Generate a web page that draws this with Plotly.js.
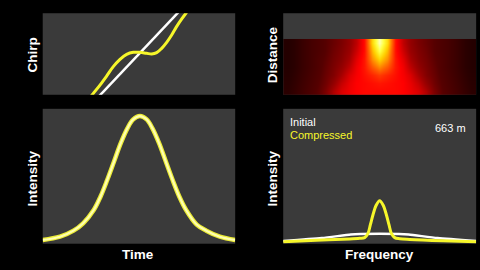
<!DOCTYPE html>
<html>
<head>
<meta charset="utf-8">
<script src="https://cdn.plot.ly/plotly-3.0.1.min.js"></script>
<style>
  html, body { margin: 0; padding: 0; background: #000; }
  #chart { width: 480px; height: 270px; }
</style>
</head>
<body>
<div id="chart"></div>
<script>
// ---- Chirp panel (top-left) ----
const chirpTimeInitial = [-1.0, 1.0];
const chirpInitial = [-2.5, 2.5];
const chirpTimeCompressed = [-0.52, -0.474, -0.405, -0.336, -0.267, -0.197, -0.128, -0.059, 0.010, 0.080, 0.132, 0.184, 0.236, 0.288, 0.340, 0.391, 0.443, 0.488, 0.53];
const chirpCompressed = [-1.1, -0.966, -0.762, -0.541, -0.311, -0.131, -0.008, 0.041, 0.041, 0.016, 0.0, 0.033, 0.139, 0.287, 0.467, 0.672, 0.853, 1.0, 1.12];

// ---- Temporal intensity (bottom-left) ----
const timeAxis = [-1.0, -0.82, -0.68, -0.58, -0.47, -0.40, -0.33, -0.26, -0.19, -0.12, -0.06, 0.01, 0.08, 0.14, 0.21, 0.28, 0.35, 0.42, 0.49, 0.60, 0.70, 0.84, 1.0];
const intensityTime = [0.029, 0.055, 0.102, 0.160, 0.264, 0.368, 0.499, 0.642, 0.786, 0.904, 0.974, 1.0, 0.974, 0.904, 0.786, 0.642, 0.499, 0.368, 0.264, 0.150, 0.102, 0.055, 0.029];

// ---- Spectrum (bottom-right) ----
const freqInitial = [-1.0, -0.6, -0.3, -0.2, 0.2, 0.3, 0.6, 1.0];
const spectrumInitial = [0.020, 0.042, 0.068, 0.072, 0.072, 0.068, 0.042, 0.020];
const freqCompressed = [-1.0, -0.658, -0.311, -0.208, -0.156, -0.121, -0.097, -0.070, -0.035, 0.0, 0.035, 0.070, 0.097, 0.121, 0.156, 0.208, 0.311, 0.657, 1.0];
const spectrumCompressed = [0.015, 0.025, 0.035, 0.040, 0.045, 0.077, 0.139, 0.213, 0.287, 0.319, 0.287, 0.213, 0.139, 0.077, 0.045, 0.037, 0.032, 0.022, 0.015];

// ---- Spectral evolution heatmap (top-right) ----
const heatFreq = [-0.96, -0.88, -0.80, -0.72, -0.64, -0.56, -0.48, -0.40, -0.32, -0.24, -0.16, -0.08, 0.0, 0.08, 0.16, 0.24, 0.32, 0.40, 0.48, 0.56, 0.64, 0.72, 0.80, 0.88, 0.96];
const heatDistance = [47, 142, 237, 331, 426, 521, 616];
const heatRow47  = [0.15,0.19,0.23,0.27,0.31,0.36,0.44,0.50,0.53,0.55,0.56,0.56,0.56,0.56,0.56,0.55,0.53,0.50,0.44,0.36,0.31,0.27,0.23,0.19,0.15];
const heatRow142 = [0.14,0.18,0.22,0.26,0.30,0.34,0.40,0.47,0.52,0.55,0.56,0.57,0.58,0.57,0.56,0.55,0.52,0.47,0.40,0.34,0.30,0.26,0.22,0.18,0.14];
const heatRow237 = [0.13,0.17,0.21,0.25,0.29,0.33,0.37,0.43,0.50,0.54,0.57,0.60,0.63,0.60,0.57,0.54,0.50,0.43,0.37,0.33,0.29,0.25,0.21,0.17,0.13];
const heatRow331 = [0.12,0.16,0.20,0.24,0.28,0.32,0.36,0.40,0.46,0.53,0.58,0.67,0.73,0.67,0.58,0.53,0.46,0.40,0.36,0.32,0.28,0.24,0.20,0.16,0.12];
const heatRow426 = [0.12,0.16,0.20,0.24,0.28,0.31,0.35,0.38,0.43,0.51,0.58,0.74,0.83,0.74,0.58,0.51,0.43,0.38,0.35,0.31,0.28,0.24,0.20,0.16,0.12];
const heatRow521 = [0.12,0.16,0.20,0.24,0.27,0.30,0.34,0.37,0.41,0.48,0.57,0.79,0.93,0.79,0.57,0.48,0.41,0.37,0.34,0.30,0.27,0.24,0.20,0.16,0.12];
const heatRow616 = [0.12,0.16,0.20,0.24,0.27,0.30,0.33,0.36,0.40,0.46,0.57,0.84,1.00,0.84,0.57,0.46,0.40,0.36,0.33,0.30,0.27,0.24,0.20,0.16,0.12];

const YELLOW = '#f6f62a';
const axisBase = { showgrid: false, zeroline: false, showticklabels: false, ticks: '', showline: false, fixedrange: true };

const traces = [
  { type: 'scatter', mode: 'lines', x: chirpTimeInitial, y: chirpInitial, xaxis: 'x', yaxis: 'y',
    line: { color: '#ffffff', width: 2.5 }, hoverinfo: 'skip' },
  { type: 'scatter', mode: 'lines', x: chirpTimeCompressed, y: chirpCompressed, xaxis: 'x', yaxis: 'y',
    line: { color: YELLOW, width: 3, shape: 'spline', smoothing: 1 }, hoverinfo: 'skip' },
  { type: 'heatmap', x: heatFreq, y: heatDistance,
    z: [heatRow47, heatRow142, heatRow237, heatRow331, heatRow426, heatRow521, heatRow616],
    xaxis: 'x2', yaxis: 'y2', zmin: 0, zmax: 1, zsmooth: 'best', showscale: false, hoverinfo: 'skip',
    colorscale: [[0,'#0d0000'],[0.15,'#2a0000'],[0.3,'#560000'],[0.42,'#a00000'],[0.55,'#ff0000'],[0.68,'#ff6000'],[0.82,'#ffd000'],[0.92,'#ffff40'],[1,'#ffffb0']] },
  { type: 'scatter', mode: 'lines', x: timeAxis, y: intensityTime, xaxis: 'x3', yaxis: 'y3',
    line: { color: '#ecec34', width: 4.5, shape: 'spline', smoothing: 1 }, hoverinfo: 'skip' },
  { type: 'scatter', mode: 'lines', x: timeAxis, y: intensityTime, xaxis: 'x3', yaxis: 'y3',
    line: { color: '#ffffb0', width: 2.2, shape: 'spline', smoothing: 1 }, hoverinfo: 'skip' },
  { type: 'scatter', mode: 'lines', x: freqInitial, y: spectrumInitial, xaxis: 'x4', yaxis: 'y4',
    line: { color: '#ffffff', width: 2.5, shape: 'spline', smoothing: 0.6 }, hoverinfo: 'skip' },
  { type: 'scatter', mode: 'lines', x: freqCompressed, y: spectrumCompressed, xaxis: 'x4', yaxis: 'y4',
    line: { color: YELLOW, width: 3, shape: 'spline', smoothing: 1 }, hoverinfo: 'skip' }
];

const labelFont = { family: 'Liberation Sans, Arial, sans-serif', size: 13.5, color: '#ffffff' };
const textFont = { family: 'Liberation Sans, Arial, sans-serif', size: 11, color: '#ffffff' };

const layout = {
  width: 480, height: 270,
  margin: { l: 0, r: 0, t: 0, b: 0 },
  paper_bgcolor: '#000000',
  plot_bgcolor: '#3a3a3a',
  showlegend: false,
  xaxis:  Object.assign({}, axisBase, { domain: [0.089, 0.490], range: [-1, 1], anchor: 'y' }),
  yaxis:  Object.assign({}, axisBase, { domain: [0.649, 0.951], range: [-1, 1], anchor: 'x' }),
  xaxis2: Object.assign({}, axisBase, { domain: [0.590, 0.992], range: [-1, 1], anchor: 'y2' }),
  yaxis2: Object.assign({}, axisBase, { domain: [0.649, 0.951], range: [0, 970], anchor: 'x2' }),
  xaxis3: Object.assign({}, axisBase, { domain: [0.089, 0.490], range: [-1, 1], anchor: 'y3' }),
  yaxis3: Object.assign({}, axisBase, { domain: [0.0974, 0.597], range: [0, 1.057], anchor: 'x3' }),
  xaxis4: Object.assign({}, axisBase, { domain: [0.590, 0.992], range: [-1, 1], anchor: 'y4' }),
  yaxis4: Object.assign({}, axisBase, { domain: [0.0974, 0.597], range: [0, 1], anchor: 'x4' }),
  annotations: [
    { text: '<b>Chirp</b>', xref: 'paper', yref: 'paper', x: 0.0677, y: 0.796, textangle: -90, showarrow: false, font: labelFont, xanchor: 'center', yanchor: 'middle' },
    { text: '<b>Intensity</b>', xref: 'paper', yref: 'paper', x: 0.0677, y: 0.341, textangle: -90, showarrow: false, font: labelFont, xanchor: 'center', yanchor: 'middle' },
    { text: '<b>Distance</b>', xref: 'paper', yref: 'paper', x: 0.5677, y: 0.797, textangle: -90, showarrow: false, font: labelFont, xanchor: 'center', yanchor: 'middle' },
    { text: '<b>Intensity</b>', xref: 'paper', yref: 'paper', x: 0.5677, y: 0.341, textangle: -90, showarrow: false, font: labelFont, xanchor: 'center', yanchor: 'middle' },
    { text: '<b>Time</b>', xref: 'paper', yref: 'paper', x: 0.2875, y: 0.059, showarrow: false, font: labelFont, xanchor: 'center', yanchor: 'middle' },
    { text: '<b>Frequency</b>', xref: 'paper', yref: 'paper', x: 0.790, y: 0.059, showarrow: false, font: labelFont, xanchor: 'center', yanchor: 'middle' },
    { text: 'Initial', xref: 'paper', yref: 'paper', x: 0.601, y: 0.549, showarrow: false, font: textFont, xanchor: 'left', yanchor: 'middle' },
    { text: 'Compressed', xref: 'paper', yref: 'paper', x: 0.601, y: 0.500, showarrow: false, font: Object.assign({}, textFont, { color: YELLOW }), xanchor: 'left', yanchor: 'middle' },
    { text: '663 m', xref: 'paper', yref: 'paper', x: 0.976, y: 0.526, showarrow: false, font: textFont, xanchor: 'right', yanchor: 'middle' }
  ]
};

Plotly.newPlot('chart', traces, layout, { staticPlot: true, displayModeBar: false });
</script>
</body>
</html>
